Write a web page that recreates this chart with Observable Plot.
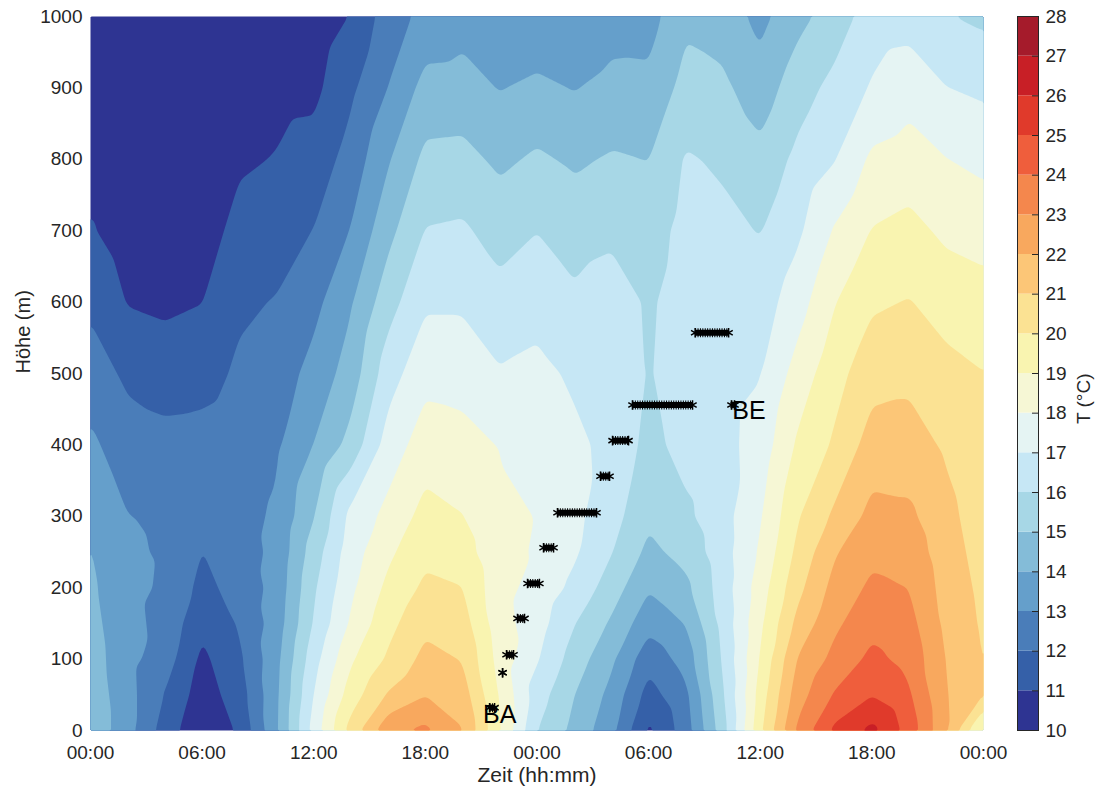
<!DOCTYPE html>
<html>
<head>
<meta charset="utf-8">
<script src="https://cdn.jsdelivr.net/npm/d3@7"></script>
<script src="https://cdn.jsdelivr.net/npm/@observablehq/plot@0.6"></script>
<style>
  html, body { margin: 0; padding: 0; background: #ffffff; }
  #wrap { position: relative; width: 1098px; height: 793px; overflow: hidden; }
  #main { position: absolute; left: 0; top: 0; }
  #cbar { position: absolute; left: 1000px; top: 0; }
</style>
</head>
<body>
<div id="wrap"><div id="main"></div><div id="cbar"></div></div>
<script>
// ---- data: temperature profiles (°C) at heights (m), every 2 hours over 48 h ----
const heights = [0, 50, 100, 150, 200, 250, 300, 400, 500, 600, 700, 800, 900, 1000];

const profile00 = [14.8, 14.65, 14.5, 14.35, 14.2, 14.05, 13.8, 13.2, 12.5, 11.8, 11.1, 10.6, 10.4, 10.3];
const profile02 = [13.35, 13.35, 13.3, 13.25, 13.2, 13.1, 13.02, 12.45, 11.8, 10.95, 10.5, 10.3, 10.2, 10.1];
const profile04 = [11.55, 11.95, 12.5, 12.75, 12.9, 12.93, 12.9, 12.3, 11.55, 10.8, 10.4, 10.2, 10.1, 10.05];
const profile06 = [10.15, 10.5, 10.78, 11.2, 11.7, 11.98, 12.35, 12.35, 11.65, 10.98, 10.5, 10.25, 10.1, 10.02];
const profile08 = [11.15, 11.5, 11.8, 12.1, 12.4, 12.6, 12.7, 12.55, 12.15, 11.85, 11.35, 10.85, 10.5, 10.3];
const profile10 = [13.85, 13.8, 13.7, 13.45, 13.32, 13.22, 13.13, 12.85, 12.45, 12.05, 11.6, 11.05, 10.7, 10.5];
const profile12 = [17.4, 17.02, 16.6, 16.1, 15.85, 15.5, 14.95, 14.02, 13.35, 12.7, 12.02, 11.4, 10.75, 10.4];
const profile14 = [20.4, 19.5, 18.85, 18.15, 17.8, 17.55, 17.3, 15.35, 14.45, 13.9, 13.05, 12.4, 11.8, 11.05];
const profile16 = [22.75, 21.1, 20.15, 19.7, 19.25, 18.8, 18.3, 17.45, 16.55, 15.6, 14.7, 13.9, 13.02, 12.5];
const profile18 = [23.25, 21.95, 21.3, 20.75, 20.2, 19.75, 19.35, 18.5, 17.7, 16.85, 16.05, 15.25, 14.35, 13.3];
const profile20 = [22.05, 21.5, 20.95, 20.45, 20.02, 19.45, 19.03, 18.35, 17.6, 16.85, 16.15, 15.3, 14.4, 13.6];
const profile22 = [19.05, 18.9, 18.6, 18.4, 18.3, 18.22, 18.15, 17.95, 17.08, 16.35, 15.6, 14.8, 13.95, 13.1];
const profile24 = [16.02, 16.5, 17.1, 17.45, 17.7, 17.93, 17.98, 17.8, 17.25, 16.65, 15.98, 15.15, 14.25, 13.1];
const profile26 = [14.7, 15.02, 15.55, 16.05, 16.75, 17.15, 17.25, 17.2, 16.85, 16.2, 15.55, 14.85, 13.95, 13.05];
const profile28 = [13.3, 13.7, 14.2, 14.85, 15.5, 16.05, 16.4, 16.75, 16.85, 16.6, 15.75, 15.1, 14.3, 13.55];
const profile30 = [10.8, 11.6, 12.35, 13.35, 14.1, 14.75, 15.2, 15.7, 15.92, 15.85, 15.5, 14.98, 14.25, 13.6];
const profile32 = [12.5, 12.75, 13.4, 14.05, 14.75, 15.35, 15.8, 16.35, 16.55, 16.5, 16.35, 16.1, 15.35, 14.8];
const profile34 = [15.6, 15.9, 16.15, 16.35, 16.5, 16.6, 16.65, 16.7, 16.65, 16.5, 16.25, 15.85, 15.2, 14.55];
const profile36 = [19.8, 19.45, 19.1, 18.8, 18.5, 18.15, 17.9, 17.4, 16.95, 16.5, 15.95, 15.3, 14.45, 13.7];
const profile38 = [23.2, 22.55, 22.05, 21.3, 20.7, 20.25, 19.9, 19.15, 18.4, 17.55, 16.8, 16.25, 15.55, 14.7];
const profile40 = [25.25, 24.1, 23.3, 22.8, 22.35, 21.9, 21.2, 20.15, 19.65, 18.95, 18.1, 16.95, 16.3, 15.45];
const profile42 = [26.3, 24.95, 24.25, 23.7, 23.2, 22.75, 22.3, 21.45, 20.6, 19.85, 19.05, 18.2, 17.1, 16.5];
const profile44 = [24.6, 24.15, 23.7, 23.35, 22.98, 22.6, 22.2, 21.45, 20.75, 20.05, 19.3, 18.45, 17.6, 16.6];
const profile46 = [22.1, 22.05, 21.95, 21.75, 21.6, 21.45, 21.3, 20.85, 20.3, 19.6, 18.8, 18.02, 17.02, 16.05];
const profile48 = [18.6, 21.02, 20.95, 20.85, 20.75, 20.6, 20.45, 20.2, 20.02, 19.4, 18.6, 17.75, 16.8, 15.8];

const profileTimes = [0, 2, 4, 6, 8, 10, 12, 14, 16, 18, 20, 22, 24, 26, 28, 30, 32, 34, 36, 38, 40, 42, 44, 46, 48];
const profiles = [profile00, profile02, profile04, profile06, profile08, profile10, profile12, profile14,
  profile16, profile18, profile20, profile22, profile24, profile26, profile28, profile30, profile32,
  profile34, profile36, profile38, profile40, profile42, profile44, profile46, profile48];

// measurement segments (height in m, start/end time in hours)
const markerHeights = [32, 81, 106, 157, 206, 256, 305, 356, 406, 456, 557, 456];
const markerStart   = [21.45, 22.15, 22.36, 22.95, 23.49, 24.35, 25.1, 27.41, 28.06, 29.13, 32.5, 34.45];
const markerEnd     = [21.72, 22.15, 22.74, 23.33, 24.13, 24.89, 27.2, 27.9, 28.92, 32.36, 34.3, 34.62];

// annotations
const labelTexts   = ["BA", "BE"];
const labelTimes   = [21.1, 34.5];
const labelHeights = [22, 447];

// axes
const timeTicks = [0, 6, 12, 18, 24, 30, 36, 42, 48];
const timeTickLabels = ["00:00", "06:00", "12:00", "18:00", "00:00", "06:00", "12:00", "18:00", "00:00"];
const heightTicks = [0, 100, 200, 300, 400, 500, 600, 700, 800, 900, 1000];

// colour levels
const levels = [10, 11, 12, 13, 14, 15, 16, 17, 18, 19, 20, 21, 22, 23, 24, 25, 26, 27, 28];
const levelColors = ["#2e3492", "#3560a8", "#4a7db9", "#659fcb", "#84bcd8", "#a7d7e6", "#c6e7f5", "#e5f4f3",
  "#f6f7d5", "#f9f4b0", "#fbe293", "#fcc677", "#f8a85e", "#f4874d", "#ef5e3c", "#e03a2b", "#c81f26", "#a51b2b"];

// ---- build tables ----
const grid = [];
profiles.forEach((vals, j) => vals.forEach((T, i) => grid.push({t: profileTimes[j], z: heights[i], T})));
const segments = markerHeights.map((z, i) => ({z, t0: markerStart[i], t1: markerEnd[i]}));
const segEnds = segments.flatMap(s => [{t: s.t0, z: s.z}, {t: s.t1, z: s.z}]);
const labels = labelTexts.map((s, i) => ({s, t: labelTimes[i], z: labelHeights[i]}));

const FONT = '"Liberation Sans", Arial, Helvetica, sans-serif';
const TXT = "#262626";
const colorScale = {type: "threshold", domain: levels.slice(1, -1), range: levelColors};

const main = Plot.plot({
  width: 1000, height: 793,
  marginLeft: 90, marginRight: 17, marginTop: 16, marginBottom: 63,
  style: {fontFamily: FONT, fontSize: "19px", color: TXT, background: "transparent", overflow: "visible"},
  x: {domain: [0, 48], label: null},
  y: {domain: [0, 1000], label: null},
  color: colorScale,
  marks: [
    Plot.contour(grid, {x: "t", y: "z", fill: "T", thresholds: levels, interpolate: "barycentric", blur: 1, stroke: "none"}),
    Plot.axisX({ticks: timeTicks, tickFormat: d => timeTickLabels[timeTicks.indexOf(d)], tickSize: 0, tickPadding: 15, label: null, fill: TXT, fontSize: 19}),
    Plot.axisY({ticks: heightTicks, tickFormat: d => String(d), tickSize: 0, tickPadding: 8, label: null, fill: TXT, fontSize: 19}),
    Plot.link(segments, {x1: "t0", x2: "t1", y1: "z", y2: "z", stroke: "black", strokeWidth: 6}),
    Plot.link(segments, {x1: "t0", x2: "t1", y1: "z", y2: "z", stroke: "black", strokeWidth: 9, strokeDasharray: "1 1.4"}),
    Plot.dot(segEnds, {x: "t", y: "z", symbol: "asterisk", r: 4.5, stroke: "black", strokeWidth: 1.5}),
    Plot.text(labels, {x: "t", y: "z", text: "s", textAnchor: "start", fontSize: 25, fill: "black"}),
    Plot.text(["Zeit (hh:mm)"], {text: d => d, frameAnchor: "bottom", dy: 51, fontSize: 21, fill: TXT}),
    Plot.text(["Höhe (m)"], {text: d => d, frameAnchor: "left", dx: -67, rotate: -90, fontSize: 20, fill: TXT})
  ]
});
document.getElementById("main").appendChild(main);

const cbar = Plot.plot({
  width: 98, height: 793,
  marginLeft: 17, marginRight: 60, marginTop: 16, marginBottom: 63,
  style: {fontFamily: FONT, fontSize: "19px", color: TXT, background: "transparent", overflow: "visible"},
  y: {domain: [10, 28], label: null},
  color: colorScale,
  marks: [
    Plot.rect(levels.slice(0, -1), {y1: d => d, y2: d => d + 1, fill: d => d}),
    Plot.ruleY(levels, {stroke: TXT, insetLeft: 15, strokeWidth: 1}),
    Plot.frame({stroke: TXT, strokeWidth: 1}),
    Plot.axisY({anchor: "right", ticks: levels, tickSize: 0, tickPadding: 7, label: null, fill: TXT, fontSize: 19}),
    Plot.text(["T (°C)"], {text: d => d, frameAnchor: "right", dx: 45, rotate: -90, fontSize: 19, fill: TXT})
  ]
});
document.getElementById("cbar").appendChild(cbar);
</script>
</body>
</html>
